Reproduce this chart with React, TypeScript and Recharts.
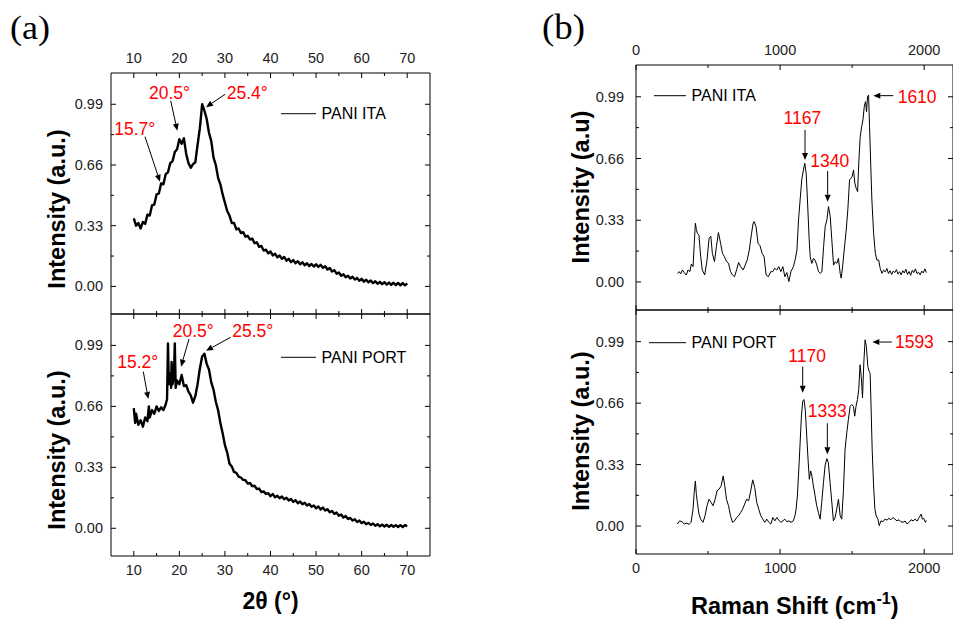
import { Line, LineChart, ReferenceDot, ReferenceLine, XAxis, YAxis } from "recharts";

const FONT = "'Liberation Sans', Arial, sans-serif";

// XRD, PANI ITA (2θ in degrees, normalised intensity)
const xrdItaAngle = [
  10, 10.5, 11, 11.5, 12, 12.5, 13, 13.5, 14, 14.5, 15, 15.5, 16, 16.5, 17, 17.5, 18, 18.5, 19, 19.5,
  20, 20.5, 21, 21.5, 22, 22.5, 23, 23.5, 24, 24.5, 25, 25.5, 26, 26.5, 27, 27.5, 28, 28.5, 29, 29.5,
  30, 30.5, 31, 31.5, 32, 32.5, 33, 33.5, 34, 34.5, 35, 35.5, 36, 36.5, 37, 37.5, 38, 38.5, 39, 39.5,
  40, 40.5, 41, 41.5, 42, 42.5, 43, 43.5, 44, 44.5, 45, 45.5, 46, 46.5, 47, 47.5, 48, 48.5, 49, 49.5,
  50, 50.5, 51, 51.5, 52, 52.5, 53, 53.5, 54, 54.5, 55, 55.5, 56, 56.5, 57, 57.5, 58, 58.5, 59, 59.5,
  60, 60.5, 61, 61.5, 62, 62.5, 63, 63.5, 64, 64.5, 65, 65.5, 66, 66.5, 67, 67.5, 68, 68.5, 69, 69.5, 70,
];
const xrdItaIntensity = [
  0.37, 0.33, 0.345, 0.315, 0.35, 0.34, 0.39, 0.385, 0.44, 0.445,
  0.5, 0.505, 0.56, 0.555, 0.61, 0.62, 0.67, 0.68, 0.73, 0.745,
  0.8, 0.775, 0.805, 0.72, 0.67, 0.645, 0.665, 0.675, 0.77, 0.86,
  0.99, 0.955, 0.91, 0.835, 0.79, 0.7, 0.66, 0.59, 0.555, 0.5,
  0.455, 0.41, 0.385, 0.345, 0.345, 0.31, 0.315, 0.29, 0.295, 0.27,
  0.275, 0.255, 0.26, 0.235, 0.24, 0.215, 0.22, 0.195, 0.2, 0.18,
  0.19, 0.168, 0.178, 0.158, 0.168, 0.15, 0.16, 0.14, 0.15, 0.132,
  0.143, 0.126, 0.137, 0.12, 0.131, 0.115, 0.126, 0.111, 0.122, 0.108,
  0.12, 0.106, 0.117, 0.101, 0.11, 0.092, 0.1, 0.081, 0.088, 0.069,
  0.076, 0.058, 0.066, 0.05, 0.058, 0.043, 0.052, 0.037, 0.046, 0.031,
  0.041, 0.026, 0.036, 0.022, 0.032, 0.018, 0.028, 0.014, 0.025, 0.012,
  0.023, 0.01, 0.021, 0.008, 0.02, 0.007, 0.019, 0.006, 0.018, 0.006, 0.017,
];

// XRD, PANI PORT
const xrdPortAngle = [
  10, 10.3, 10.5, 11, 11.5, 12, 12.5, 13, 13.3, 13.5,
  14, 14.5, 15, 15.5, 16, 16.5, 17, 17.3, 17.5, 17.7,
  18, 18.2, 18.3, 18.5, 18.8, 19, 19.2, 19.5, 20, 20.5,
  21, 21.5, 22, 22.5, 23, 23.5, 24, 24.5, 25, 25.5, 26, 26.5, 27, 27.5, 28, 28.5, 29, 29.5,
  30, 30.5, 31, 31.5, 32, 32.5, 33, 33.5, 34, 34.5, 35, 35.5, 36, 36.5, 37, 37.5, 38, 38.5, 39, 39.5,
  40, 40.5, 41, 41.5, 42, 42.5, 43, 43.5, 44, 44.5, 45, 45.5, 46, 46.5, 47, 47.5, 48, 48.5, 49, 49.5,
  50, 50.5, 51, 51.5, 52, 52.5, 53, 53.5, 54, 54.5, 55, 55.5, 56, 56.5, 57, 57.5, 58, 58.5, 59, 59.5,
  60, 60.5, 61, 61.5, 62, 62.5, 63, 63.5, 64, 64.5, 65, 65.5, 66, 66.5, 67, 67.5, 68, 68.5, 69, 69.5, 70,
];
const xrdPortIntensity = [
  0.65, 0.57, 0.62, 0.56, 0.585, 0.55, 0.6, 0.58, 0.66, 0.6,
  0.64, 0.62, 0.66, 0.635, 0.655, 0.64, 0.67, 0.7, 1.0, 0.78,
  0.84, 0.76, 0.9, 0.78, 0.82, 1.0, 0.76, 0.8, 0.78, 0.83,
  0.77, 0.775, 0.74, 0.72, 0.68, 0.715, 0.78, 0.865, 0.93, 0.945,
  0.89, 0.86, 0.79, 0.75, 0.685, 0.64, 0.57, 0.515, 0.45, 0.41,
  0.35, 0.335, 0.305, 0.3, 0.28, 0.275, 0.262, 0.26, 0.242, 0.245,
  0.228, 0.23, 0.213, 0.215, 0.196, 0.2, 0.186, 0.19, 0.174, 0.185,
  0.168, 0.176, 0.163, 0.172, 0.157, 0.165, 0.151, 0.158, 0.143, 0.152,
  0.136, 0.145, 0.13, 0.138, 0.123, 0.131, 0.116, 0.124, 0.108, 0.118,
  0.102, 0.112, 0.096, 0.103, 0.087, 0.094, 0.078, 0.085, 0.068, 0.075,
  0.058, 0.066, 0.05, 0.056, 0.042, 0.049, 0.034, 0.042, 0.028, 0.035,
  0.022, 0.03, 0.018, 0.026, 0.014, 0.022, 0.011, 0.02, 0.01, 0.019,
  0.008, 0.018, 0.008, 0.017, 0.007, 0.017, 0.007, 0.017, 0.012,
];

// Raman, PANI ITA (cm-1)
const ramanItaShift = [
  287, 300, 310, 322, 335, 349, 361, 374, 384, 396, 404, 412, 419, 426, 437, 449, 460, 477, 493, 507,
  519, 530, 545, 558, 572, 587, 600, 614, 628, 642, 656, 670, 684, 698, 712, 726, 744, 758, 772, 786,
  802, 812, 819, 826, 833, 847, 861, 875, 889, 903, 919, 935, 949, 963, 977, 991, 1005, 1019, 1033, 1047,
  1061, 1075, 1092, 1105, 1117, 1128, 1139, 1150, 1162, 1171, 1181, 1190, 1202, 1209, 1220, 1232, 1243, 1255, 1267, 1278,
  1290, 1302, 1313, 1325, 1336, 1348, 1359, 1371, 1382, 1394, 1405, 1417, 1424, 1435, 1445, 1459, 1470, 1482, 1491, 1500,
  1510, 1519, 1528, 1538, 1547, 1556, 1566, 1575, 1584, 1593, 1600, 1607, 1614, 1621, 1628, 1637, 1649, 1661, 1672, 1684,
  1695, 1707, 1718, 1730, 1741, 1752, 1763, 1774, 1785, 1796, 1807, 1818, 1829, 1840, 1851, 1862, 1873, 1884, 1895, 1906,
  1917, 1928, 1939, 1950, 1961, 1972, 1983, 1994, 2005, 2015,
];
const ramanItaIntensity = [
  0.046, 0.055, 0.043, 0.064, 0.05, 0.037, 0.064, 0.055, 0.096, 0.082, 0.2, 0.314, 0.28, 0.26, 0.25, 0.135, 0.064, 0.037, 0.117, 0.233,
  0.245, 0.153, 0.109, 0.189, 0.264, 0.207, 0.153, 0.135, 0.109, 0.1, 0.055, 0.037, 0.028, 0.064, 0.104, 0.082, 0.064, 0.091, 0.117, 0.171,
  0.26, 0.31, 0.323, 0.31, 0.296, 0.207, 0.193, 0.153, 0.135, 0.037, 0.028, 0.055, 0.055, 0.073, 0.064, 0.082, 0.055, 0.082, 0.028, 0.05,
  0.002, 0.055, 0.082, 0.12, 0.171, 0.332, 0.438, 0.545, 0.599, 0.635, 0.581, 0.438, 0.225, 0.135, 0.099, 0.126, 0.117, 0.09, 0.054, 0.046,
  0.054, 0.189, 0.296, 0.332, 0.403, 0.35, 0.225, 0.09, 0.108, 0.099, 0.126, 0.046, 0.02, 0.09, 0.171, 0.278, 0.385, 0.545, 0.554, 0.563,
  0.599, 0.528, 0.501, 0.483, 0.652, 0.777, 0.83, 0.866, 0.937, 0.964, 0.91, 0.991, 0.999, 0.83, 0.652, 0.438, 0.26, 0.153, 0.117, 0.117,
  0.072, 0.046, 0.063, 0.054, 0.072, 0.045, 0.06, 0.04, 0.058, 0.05, 0.066, 0.042, 0.055, 0.038, 0.06, 0.048, 0.068, 0.04, 0.056, 0.035,
  0.062, 0.05, 0.07, 0.045, 0.052, 0.038, 0.058, 0.048, 0.07, 0.05,
];

// Raman, PANI PORT
const ramanPortShift = [
  287, 303, 319, 335, 352, 368, 382, 396, 404, 412, 419, 426, 437, 449, 465, 479, 493, 507, 521, 535,
  549, 563, 577, 591, 605, 616, 628, 642, 656, 670, 684, 698, 712, 726, 740, 754, 768, 782, 796, 810,
  824, 838, 852, 866, 880, 894, 908, 922, 936, 950, 964, 977, 991, 1005, 1019, 1033, 1047, 1061, 1075, 1092,
  1103, 1111, 1120, 1130, 1139, 1148, 1157, 1166, 1175, 1185, 1194, 1203, 1212, 1221, 1231, 1243, 1254, 1266, 1278, 1289,
  1301, 1312, 1324, 1335, 1347, 1359, 1370, 1382, 1393, 1405, 1417, 1428, 1440, 1451, 1463, 1474, 1486, 1497, 1509, 1518,
  1527, 1537, 1546, 1555, 1564, 1572, 1581, 1590, 1599, 1609, 1618, 1625, 1632, 1639, 1649, 1658, 1667, 1679, 1688, 1700,
  1714, 1728, 1742, 1756, 1769, 1783, 1797, 1811, 1825, 1839, 1853, 1867, 1881, 1895, 1909, 1923, 1937, 1951, 1965, 1979,
  1988, 1997, 2009, 2015,
];
const ramanPortIntensity = [
  0.011, 0.028, 0.023, 0.011, 0.016, 0.009, 0.02, 0.091, 0.18, 0.242, 0.17, 0.127, 0.064, 0.037, 0.02, 0.055, 0.109, 0.144, 0.127, 0.109,
  0.144, 0.189, 0.198, 0.216, 0.269, 0.216, 0.144, 0.109, 0.055, 0.02, 0.028, 0.046, 0.055, 0.073, 0.091, 0.118, 0.144, 0.136, 0.189, 0.248,
  0.207, 0.127, 0.091, 0.055, 0.037, 0.02, 0.037, 0.02, 0.011, 0.046, 0.028, 0.046, 0.032, 0.02, 0.028, 0.037, 0.023, 0.028, 0.02, 0.028,
  0.055, 0.091, 0.162, 0.305, 0.447, 0.59, 0.67, 0.679, 0.623, 0.483, 0.358, 0.251, 0.296, 0.269, 0.216, 0.162, 0.109, 0.073, 0.037, 0.127,
  0.233, 0.323, 0.362, 0.34, 0.233, 0.127, 0.028, 0.046, 0.091, 0.144, 0.055, 0.037, 0.198, 0.412, 0.501, 0.572, 0.643, 0.652, 0.643, 0.59,
  0.643, 0.679, 0.733, 0.866, 0.795, 0.688, 0.875, 1.0, 0.964, 0.857, 0.83, 0.82, 0.623, 0.412, 0.216, 0.091, 0.055, 0.037, 0.002, 0.028,
  0.023, 0.037, 0.032, 0.041, 0.034, 0.046, 0.037, 0.028, 0.034, 0.023, 0.02, 0.027, 0.011, 0.02, 0.034, 0.028, 0.037, 0.027, 0.046, 0.064,
  0.037, 0.041, 0.02, 0.03,
];

const intensityTicks = [0, 0.33, 0.66, 0.99];
const intensityMinor = [0.165, 0.495, 0.825];
const angleTicks = [10, 20, 30, 40, 50, 60, 70];
const angleMinor = [15, 25, 35, 45, 55, 65];
const shiftTicks = [0, 1000, 2000];
const shiftMinor = [500, 1500];

type Note = {
  text: string;
  at: [number, number];
  anchor: "start" | "middle";
  from: [number, number];
  to: [number, number];
};

const xrdItaNotes: Note[] = [
  { text: "15.7°", at: [5.72, 0.823], anchor: "start", from: [12.46, 0.814], to: [15.75, 0.569] },
  { text: "20.5°", at: [13.34, 1.016], anchor: "start", from: [18.1, 1.009], to: [19.55, 0.846] },
  { text: "25.4°", at: [30.39, 1.016], anchor: "start", from: [30.02, 1.044], to: [25.85, 0.974] },
];
const xrdPortNotes: Note[] = [
  { text: "15.2°", at: [6.38, 0.868], anchor: "start", from: [12.09, 0.848], to: [13.18, 0.7] },
  { text: "20.5°", at: [18.54, 1.034], anchor: "start", from: [22.12, 1.025], to: [20.36, 0.875] },
  { text: "25.5°", at: [31.62, 1.034], anchor: "start", from: [31.27, 1.034], to: [25.85, 0.961] },
];
const ramanItaNotes: Note[] = [
  { text: "1167", at: [1155, 0.845], anchor: "middle", from: [1173, 0.813], to: [1173, 0.652] },
  { text: "1340", at: [1344, 0.613], anchor: "middle", from: [1330, 0.593], to: [1330, 0.429] },
  { text: "1610", at: [1816, 0.958], anchor: "start", from: [1786, 0.996], to: [1647, 0.996] },
];
const ramanPortNotes: Note[] = [
  { text: "1170", at: [1188, 0.881], anchor: "middle", from: [1157, 0.856], to: [1157, 0.716] },
  { text: "1333", at: [1327, 0.586], anchor: "middle", from: [1328, 0.552], to: [1328, 0.385] },
  { text: "1593", at: [1797, 0.958], anchor: "start", from: [1775, 0.988], to: [1640, 0.988] },
];

const toPoints = (xs: number[], ys: number[]) => xs.map((x, i) => ({ x, y: ys[i] }));

type Side = "left" | "right" | "top" | "bottom";

function tickRenderer(side: Side, minor: number[], showLabel: boolean, fmt: (v: number) => string, gap = 8) {
  return (props: any) => {
    const { x, y, payload } = props;
    const v = payload.value as number;
    const isMinor = minor.some((m) => Math.abs(m - v) < 1e-9);
    const len = isMinor ? 3 : 5;
    let tick;
    let label = null;
    if (side === "left") {
      tick = <line x1={x} y1={y} x2={x + len} y2={y} stroke="#000" />;
      if (showLabel && !isMinor)
        label = (
          <text x={x - gap} y={y + 5} textAnchor="end" fontSize={14.5} fontFamily={FONT} fill="#222">
            {fmt(v)}
          </text>
        );
    } else if (side === "right") {
      tick = <line x1={x} y1={y} x2={x - len} y2={y} stroke="#000" />;
    } else if (side === "top") {
      tick = <line x1={x} y1={y} x2={x} y2={y + len} stroke="#000" />;
      if (showLabel && !isMinor)
        label = (
          <text x={x} y={y - 10} textAnchor="middle" fontSize={14.5} fontFamily={FONT} fill="#222">
            {fmt(v)}
          </text>
        );
    } else {
      tick = <line x1={x} y1={y} x2={x} y2={y - len} stroke="#000" />;
      if (showLabel && !isMinor)
        label = (
          <text x={x} y={y + 18.5} textAnchor="middle" fontSize={14.5} fontFamily={FONT} fill="#222">
            {fmt(v)}
          </text>
        );
    }
    return (
      <g>
        {tick}
        {label}
      </g>
    );
  };
}

const arrowShape = (p: any) => {
  const { x1, y1, x2, y2 } = p;
  const ang = Math.atan2(y2 - y1, x2 - x1);
  const c = Math.cos(ang);
  const s = Math.sin(ang);
  const bx = x2 - 7 * c;
  const by = y2 - 7 * s;
  const pts = `${x2},${y2} ${bx - 3 * s},${by + 3 * c} ${bx + 3 * s},${by - 3 * c}`;
  return (
    <g>
      <line x1={x1} y1={y1} x2={bx} y2={by} stroke="#000" strokeWidth={1} />
      <polygon points={pts} fill="#000" />
    </g>
  );
};

type PanelProps = {
  left: number;
  top: number;
  plotW: number;
  plotH: number;
  xDomain: [number, number];
  xMajor: number[];
  xMinor: number[];
  labelsOnTop: boolean;
  yGap: number;
  data: { x: number; y: number }[];
  strokeWidth: number;
  notes: Note[];
};

function Panel(p: PanelProps) {
  const xTicks = [...p.xMajor, ...p.xMinor].sort((a, b) => a - b);
  const yTicks = [...intensityTicks, ...intensityMinor].sort((a, b) => a - b);
  const fmtX = (v: number) => String(v);
  const fmtY = (v: number) => v.toFixed(2);
  return (
    <div style={{ position: "absolute", left: p.left - 60, top: p.top - 40 }}>
      <LineChart width={p.plotW + 70} height={p.plotH + 80} margin={{ top: 0, right: 0, bottom: 0, left: 0 }}>
        <XAxis
          xAxisId="b"
          orientation="bottom"
          type="number"
          dataKey="x"
          domain={p.xDomain}
          allowDataOverflow
          ticks={xTicks}
          interval={0}
          height={40}
          tickSize={0}
          tickMargin={0}
          tickLine={false}
          axisLine={{ stroke: "#000" }}
          tick={tickRenderer("bottom", p.xMinor, !p.labelsOnTop, fmtX)}
        />
        <XAxis
          xAxisId="t"
          orientation="top"
          type="number"
          dataKey="x"
          domain={p.xDomain}
          allowDataOverflow
          ticks={xTicks}
          interval={0}
          height={40}
          tickSize={0}
          tickMargin={0}
          tickLine={false}
          axisLine={{ stroke: "#000" }}
          tick={tickRenderer("top", p.xMinor, p.labelsOnTop, fmtX)}
        />
        <YAxis
          yAxisId="l"
          orientation="left"
          type="number"
          domain={[-0.15, 1.16]}
          allowDataOverflow
          ticks={yTicks}
          interval={0}
          width={60}
          tickSize={0}
          tickMargin={0}
          tickLine={false}
          axisLine={{ stroke: "#000" }}
          tick={tickRenderer("left", intensityMinor, true, fmtY, p.yGap)}
        />
        <YAxis
          yAxisId="r"
          orientation="right"
          type="number"
          domain={[-0.15, 1.16]}
          allowDataOverflow
          ticks={yTicks}
          interval={0}
          width={10}
          tickSize={0}
          tickMargin={0}
          tickLine={false}
          axisLine={{ stroke: "#000" }}
          tick={tickRenderer("right", intensityMinor, false, fmtY)}
        />
        <Line
          xAxisId="b"
          yAxisId="l"
          data={p.data}
          dataKey="y"
          type="linear"
          stroke="#000"
          strokeWidth={p.strokeWidth}
          strokeLinejoin="round"
          dot={false}
          isAnimationActive={false}
        />
        {p.notes.map((n) => (
          <ReferenceLine
            key={`a-${n.text}`}
            xAxisId="b"
            yAxisId="l"
            ifOverflow="visible"
            segment={[
              { x: n.from[0], y: n.from[1] },
              { x: n.to[0], y: n.to[1] },
            ]}
            shape={arrowShape}
          />
        ))}
        {p.notes.map((n) => (
          <ReferenceDot
            key={`t-${n.text}`}
            xAxisId="b"
            yAxisId="l"
            ifOverflow="visible"
            x={n.at[0]}
            y={n.at[1]}
            r={0}
            shape={(d: any) => (
              <text x={d.cx} y={d.cy} textAnchor={n.anchor} fontSize={17.5} fontFamily={FONT} fill="#ff0000">
                {n.text}
              </text>
            )}
          />
        ))}
      </LineChart>
    </div>
  );
}

const legends = [
  { text: "PANI ITA", x1: 281, x2: 316, y: 113.7 },
  { text: "PANI PORT", x1: 281, x2: 316, y: 357.3 },
  { text: "PANI ITA", x1: 654, x2: 686, y: 95.7 },
  { text: "PANI PORT", x1: 649, x2: 686, y: 342.7 },
];

const yTitles = [
  { text: "Intensity (a.u.)", x: 65, y: 209 },
  { text: "Intensity (a.u.)", x: 65, y: 450 },
  { text: "Intensity (a.u)", x: 589, y: 187 },
  { text: "Intensity (a.u.)", x: 589, y: 431 },
];

export default function App() {
  return (
    <div style={{ position: "absolute", left: 0, top: 0, width: 953, height: 619, overflow: "hidden", background: "#fff" }}>
      <Panel
        left={111}
        top={73}
        plotW={319}
        plotH={241}
        xDomain={[5, 75]}
        xMajor={angleTicks}
        xMinor={angleMinor}
        labelsOnTop
        yGap={8}
        data={toPoints(xrdItaAngle, xrdItaIntensity)}
        strokeWidth={2.4}
        notes={xrdItaNotes}
      />
      <Panel
        left={111}
        top={314}
        plotW={319}
        plotH={242}
        xDomain={[5, 75]}
        xMajor={angleTicks}
        xMinor={angleMinor}
        labelsOnTop={false}
        yGap={8}
        data={toPoints(xrdPortAngle, xrdPortIntensity)}
        strokeWidth={2.4}
        notes={xrdPortNotes}
      />
      <Panel
        left={636}
        top={65}
        plotW={317}
        plotH={245}
        xDomain={[0, 2200]}
        xMajor={shiftTicks}
        xMinor={shiftMinor}
        labelsOnTop
        yGap={12}
        data={toPoints(ramanItaShift, ramanItaIntensity)}
        strokeWidth={1}
        notes={ramanItaNotes}
      />
      <Panel
        left={636}
        top={310}
        plotW={317}
        plotH={244}
        xDomain={[0, 2200]}
        xMajor={shiftTicks}
        xMinor={shiftMinor}
        labelsOnTop={false}
        yGap={12}
        data={toPoints(ramanPortShift, ramanPortIntensity)}
        strokeWidth={1}
        notes={ramanPortNotes}
      />
      <svg width={953} height={619} style={{ position: "absolute", left: 0, top: 0, pointerEvents: "none" }}>
        <text x={10} y={38.5} fontSize={34} fontFamily="'Liberation Serif', serif" textLength={40} lengthAdjust="spacingAndGlyphs">
          (a)
        </text>
        <text x={542} y={39} fontSize={35} fontFamily="'Liberation Serif', serif" textLength={43} lengthAdjust="spacingAndGlyphs">
          (b)
        </text>
        {legends.map((l, i) => (
          <g key={i}>
            <line x1={l.x1} y1={l.y} x2={l.x2} y2={l.y} stroke="#000" strokeWidth={1} />
            <text x={l.x2 + 5.5} y={l.y + 5.5} fontSize={16} fontFamily={FONT} fill="#000">
              {l.text}
            </text>
          </g>
        ))}
        {yTitles.map((t, i) => (
          <text
            key={i}
            x={t.x}
            y={t.y}
            transform={`rotate(-90 ${t.x} ${t.y})`}
            textAnchor="middle"
            fontSize={23.5}
            fontWeight="bold"
            fontFamily={FONT}
          >
            {t.text}
          </text>
        ))}
        <text x={270.5} y={609} textAnchor="middle" fontSize={23} fontWeight="bold" fontFamily={FONT}>
          2θ (°)
        </text>
        <text x={691} y={614} fontSize={23.5} fontWeight="bold" fontFamily={FONT}>
          Raman Shift (cm
          <tspan fontSize={16} dy={-10}>
            -1
          </tspan>
          <tspan dy={10}>)</tspan>
        </text>
      </svg>
    </div>
  );
}
